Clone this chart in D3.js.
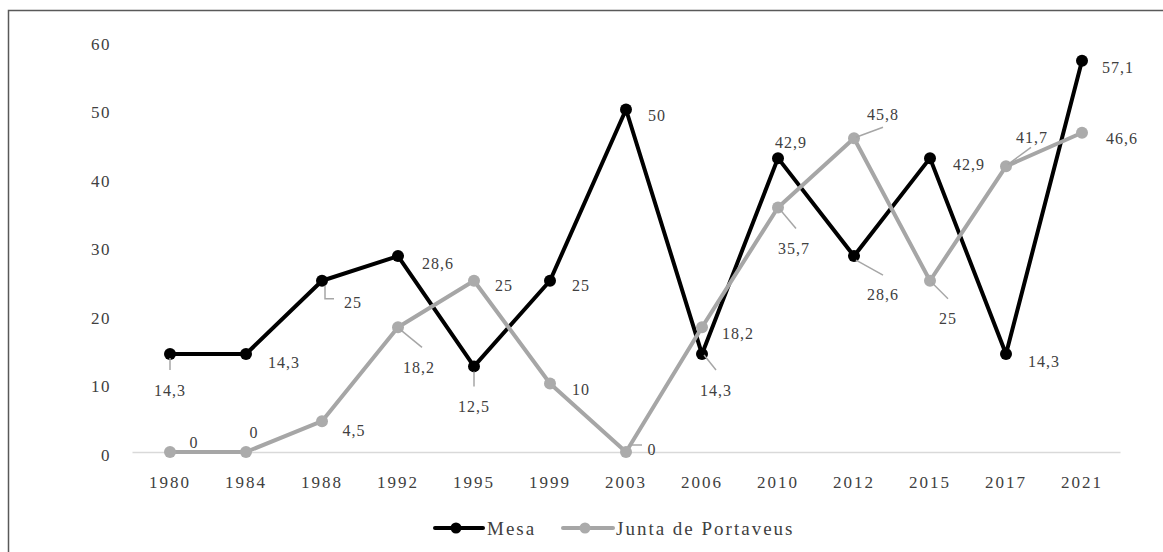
<!DOCTYPE html>
<html>
<head>
<meta charset="utf-8">
<script src="https://cdn.jsdelivr.net/npm/d3@7"></script>
<style>
  html, body { margin: 0; padding: 0; background: #fff; }
  svg { display: block; }
  text { font-family: "Liberation Serif", "DejaVu Serif", serif; fill: #404040; }
</style>
</head>
<body>
<svg id="chart" width="1163" height="552"></svg>
<script>
// Years on the x axis
const years = ["1980", "1984", "1988", "1992", "1995", "1999", "2003", "2006", "2010", "2012", "2015", "2017", "2021"];

// Share (%) per election
const mesa  = [14.3, 14.3, 25, 28.6, 12.5, 25, 50, 14.3, 42.9, 28.6, 42.9, 14.3, 57.1];
const junta = [0, 0, 4.5, 18.2, 25, 10, 0, 18.2, 35.7, 45.8, 25, 41.7, 46.6];

// Y axis ticks
const yTicks = [0, 10, 20, 30, 40, 50, 60];

// Series names
const seriesNames = ["Mesa", "Junta de Portaveus"];

// Label placement: [dx, dy] from the marker, plus optional leader-line points
const mesaLabelPos = [
  { d: [0, 36], lead: [[0, 4], [0, 16]] },
  { d: [38, 8] },
  { d: [31, 22], lead: [[3, 5], [3, 18], [12, 18]] },
  { d: [40, 7] },
  { d: [0, 40], lead: [[0, 5], [0, 20]] },
  { d: [31, 5] },
  { d: [31, 6] },
  { d: [14, 36], lead: [[2, 1], [14, 16]] },
  { d: [13, -16] },
  { d: [29, 38], lead: [[2, 4], [29, 19]] },
  { d: [39, 6] },
  { d: [38, 7] },
  { d: [36, 7] }
];
const juntaLabelPos = [
  { d: [24, -10] },
  { d: [8, -20] },
  { d: [32, 9] },
  { d: [21, 40], lead: [[2, 2], [24, 20]] },
  { d: [30, 5] },
  { d: [31, 6] },
  { d: [26, -3], lead: [[6, -7], [16, -7]] },
  { d: [36, 6] },
  { d: [16, 41], lead: [[2, 2], [18, 21]] },
  { d: [29, -24], lead: [[2, -1], [29, -11]] },
  { d: [18, 38], lead: [[2, 2], [18, 18]] },
  { d: [26, -29], lead: [[2, -2], [25, -19]] },
  { d: [40, 6] }
];

const fmt = v => String(v).replace(".", ",");

const svg = d3.select("#chart");

// Outer frame
svg.append("rect")
  .attr("x", 8.5).attr("y", 10.5)
  .attr("width", 1170).attr("height", 560)
  .attr("fill", "none")
  .attr("stroke", "#595959")
  .attr("stroke-width", 1.5);

const x = d3.scaleBand().domain(years).range([132, 1120]);
const y = d3.scaleLinear().domain([0, 60]).range([452, 41]);
const cx = yr => x(yr) + x.bandwidth() / 2;

// Y tick labels
svg.append("g").selectAll("text")
  .data(yTicks)
  .join("text")
  .attr("x", 111)
  .attr("y", d => y(d) + 3)
  .attr("dy", "0.35em")
  .attr("text-anchor", "end")
  .style("font-size", "17px")
  .style("letter-spacing", "1.5px")
  .attr("fill", "#595959")
  .text(d => d);

// X axis (baseline with labels)
const xAxis = svg.append("g")
  .attr("transform", `translate(0,${y(0)})`)
  .call(d3.axisBottom(x).tickSize(0).tickPadding(24));
xAxis.select(".domain").attr("stroke", "#d9d9d9").attr("stroke-width", 1.5);
xAxis.selectAll(".tick text")
  .style("font-size", "17px")
  .style("letter-spacing", "2px")
  .style("font-family", "'Liberation Serif', serif")
  .attr("fill", "#595959");

const series = [
  { name: seriesNames[0], values: mesa, color: "#000000", marker: "#000000", labels: mesaLabelPos },
  { name: seriesNames[1], values: junta, color: "#a6a6a6", marker: "#ababab", labels: juntaLabelPos }
];

const line = d3.line().x((d, i) => cx(years[i])).y(d => y(d));

series.forEach(s => {
  const g = svg.append("g");
  g.append("path")
    .datum(s.values)
    .attr("fill", "none")
    .attr("stroke", s.color)
    .attr("stroke-width", 4)
    .attr("stroke-linejoin", "round")
    .attr("d", line);
  g.selectAll("circle")
    .data(s.values)
    .join("circle")
    .attr("cx", (d, i) => cx(years[i]))
    .attr("cy", d => y(d))
    .attr("r", 6)
    .attr("fill", s.marker);
});

// Data labels and leader lines
series.forEach(s => {
  const g = svg.append("g");
  s.values.forEach((v, i) => {
    const px = cx(years[i]), py = y(v);
    const p = s.labels[i];
    if (p.lead) {
      g.append("polyline")
        .attr("points", p.lead.map(q => [px + q[0], py + q[1]].join(",")).join(" "))
        .attr("fill", "none")
        .attr("stroke", "#a6a6a6")
        .attr("stroke-width", 1.5);
    }
    g.append("text")
      .attr("x", px + p.d[0])
      .attr("y", py + p.d[1])
      .attr("dy", "0.35em")
      .attr("text-anchor", "middle")
      .style("font-size", "16px")
      .style("letter-spacing", "1px")
      .text(fmt(v));
  });
});

// Legend
const legend = svg.append("g").attr("transform", "translate(0,528)");
const legendItems = [
  { x0: 435, x1: 483, mx: 456, tx: 487, s: series[0] },
  { x0: 563, x1: 613, mx: 585, tx: 616, s: series[1] }
];
legendItems.forEach(it => {
  legend.append("line")
    .attr("x1", it.x0).attr("x2", it.x1)
    .attr("y1", 0).attr("y2", 0)
    .attr("stroke", it.s.color)
    .attr("stroke-width", 4)
    .attr("stroke-linecap", "round");
  legend.append("circle")
    .attr("cx", it.mx).attr("cy", 0).attr("r", 5.5)
    .attr("fill", it.s.marker);
  legend.append("text")
    .attr("x", it.tx).attr("y", 0).attr("dy", "0.35em")
    .style("font-size", "19px")
    .style("letter-spacing", it.s === series[0] ? "2px" : "2px")
    .text(it.s.name);
});
</script>
</body>
</html>
